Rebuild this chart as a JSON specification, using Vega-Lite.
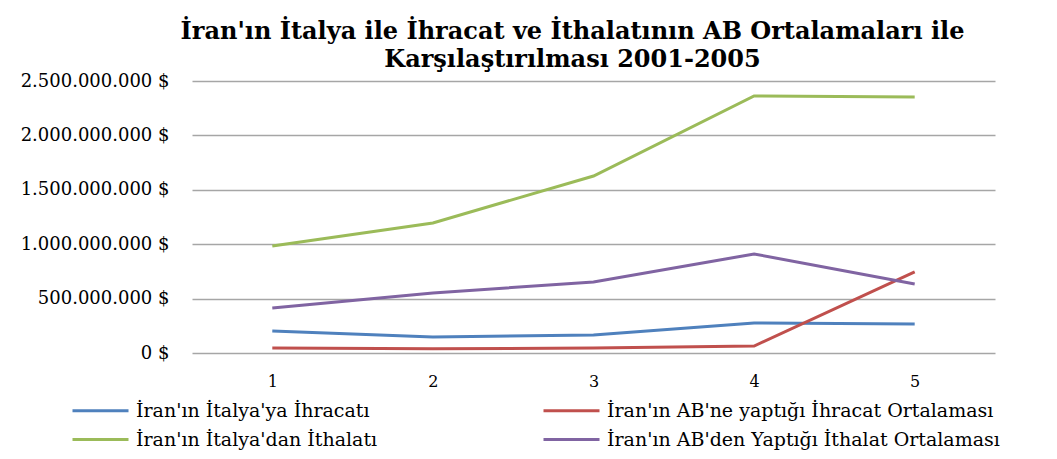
{
  "$schema": "https://vega.github.io/schema/vega-lite/v6.json",
  "width": 803,
  "height": 272,
  "autosize": {"type": "none"},
  "padding": {"left": 192, "top": 81, "right": 62, "bottom": 106},
  "background": "white",
  "title": {
    "text": ["İran'ın İtalya ile İhracat ve İthalatının AB Ortalamaları ile", "Karşılaştırılması 2001-2005"],
    "font": "DejaVu Serif",
    "fontSize": 24,
    "fontWeight": "bold",
    "color": "black",
    "anchor": "middle",
    "dx": -21,
    "offset": 0,
    "lineHeight": 28
  },
  "data": {
    "values": [
      {"x": 1, "series": "İran'ın İtalya'ya İhracatı", "value": 202000000},
      {"x": 2, "series": "İran'ın İtalya'ya İhracatı", "value": 147000000},
      {"x": 3, "series": "İran'ın İtalya'ya İhracatı", "value": 165000000},
      {"x": 4, "series": "İran'ın İtalya'ya İhracatı", "value": 276000000},
      {"x": 5, "series": "İran'ın İtalya'ya İhracatı", "value": 267000000},
      {"x": 1, "series": "İran'ın AB'ne yaptığı İhracat Ortalaması", "value": 46000000},
      {"x": 2, "series": "İran'ın AB'ne yaptığı İhracat Ortalaması", "value": 38000000},
      {"x": 3, "series": "İran'ın AB'ne yaptığı İhracat Ortalaması", "value": 46000000},
      {"x": 4, "series": "İran'ın AB'ne yaptığı İhracat Ortalaması", "value": 64000000},
      {"x": 5, "series": "İran'ın AB'ne yaptığı İhracat Ortalaması", "value": 745000000},
      {"x": 1, "series": "İran'ın İtalya'dan İthalatı", "value": 983000000},
      {"x": 2, "series": "İran'ın İtalya'dan İthalatı", "value": 1195000000},
      {"x": 3, "series": "İran'ın İtalya'dan İthalatı", "value": 1627000000},
      {"x": 4, "series": "İran'ın İtalya'dan İthalatı", "value": 2362000000},
      {"x": 5, "series": "İran'ın İtalya'dan İthalatı", "value": 2353000000},
      {"x": 1, "series": "İran'ın AB'den Yaptığı İthalat Ortalaması", "value": 414000000},
      {"x": 2, "series": "İran'ın AB'den Yaptığı İthalat Ortalaması", "value": 551000000},
      {"x": 3, "series": "İran'ın AB'den Yaptığı İthalat Ortalaması", "value": 653000000},
      {"x": 4, "series": "İran'ın AB'den Yaptığı İthalat Ortalaması", "value": 910000000},
      {"x": 5, "series": "İran'ın AB'den Yaptığı İthalat Ortalaması", "value": 634000000}
    ]
  },
  "mark": {"type": "line", "strokeWidth": 3},
  "encoding": {
    "x": {
      "field": "x",
      "type": "ordinal",
      "scale": {"type": "point", "padding": 0.5},
      "axis": {
        "title": null,
        "labelAngle": 0,
        "ticks": false,
        "domain": false,
        "grid": false,
        "labelPadding": 20,
        "labelFont": "DejaVu Serif",
        "labelFontSize": 16,
        "labelColor": "black"
      }
    },
    "y": {
      "field": "value",
      "type": "quantitative",
      "scale": {"domain": [0, 2500000000], "nice": false},
      "axis": {
        "title": null,
        "values": [0, 500000000, 1000000000, 1500000000, 2000000000, 2500000000],
        "labelExpr": "replace(format(datum.value, ',.0f'), regexp(',', 'g'), '.') + ' $'",
        "ticks": false,
        "domain": false,
        "grid": true,
        "gridColor": "#A6A6A6",
        "gridWidth": 1.5,
        "labelPadding": 23,
        "labelFont": "DejaVu Serif",
        "labelFontSize": 18,
        "labelColor": "black"
      }
    },
    "color": {
      "field": "series",
      "type": "nominal",
      "sort": ["İran'ın İtalya'ya İhracatı", "İran'ın İtalya'dan İthalatı", "İran'ın AB'ne yaptığı İhracat Ortalaması", "İran'ın AB'den Yaptığı İthalat Ortalaması"],
      "scale": {
        "domain": ["İran'ın İtalya'ya İhracatı", "İran'ın İtalya'dan İthalatı", "İran'ın AB'ne yaptığı İhracat Ortalaması", "İran'ın AB'den Yaptığı İthalat Ortalaması"],
        "range": ["#4F81BD", "#9BBB59", "#C0504D", "#8064A2"]
      },
      "legend": {
        "title": null,
        "orient": "none",
        "legendX": -101,
        "legendY": 320,
        "columns": 2,
        "columnPadding": 159,
        "rowPadding": 9,
        "symbolType": "M-4,0H4",
        "symbolSize": 196,
        "symbolStrokeWidth": 3,
        "labelOffset": 26,
        "labelFont": "DejaVu Serif",
        "labelFontSize": 19,
        "labelColor": "black",
        "labelLimit": 600
      }
    }
  },
  "config": {
    "view": {"stroke": null}
  }
}
